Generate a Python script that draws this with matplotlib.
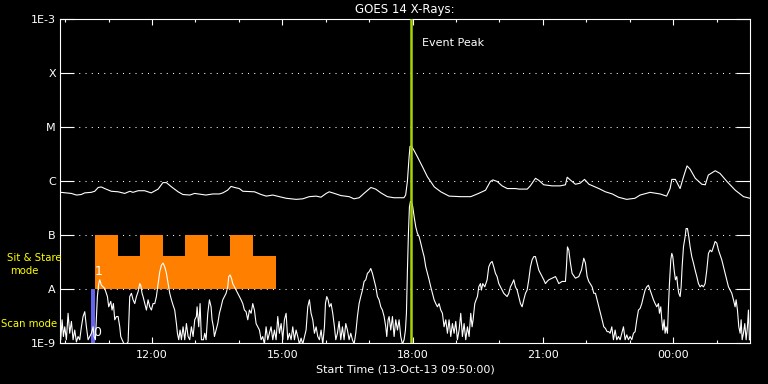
import matplotlib
matplotlib.use('Agg')
import matplotlib.pyplot as plt
import numpy as np

# GOES 14 long channel (1-8 A), time in hours of 13-Oct-13, flux as log10(W/m^2)
long_t = [9.90, 10.14, 10.26, 10.37, 10.45, 10.60, 10.68, 10.76, 10.83, 10.91, 11.06, 11.22, 11.37,
          11.49, 11.56, 11.68, 11.83, 11.98, 12.14, 12.25, 12.33, 12.45, 12.60, 12.71, 12.87, 12.98,
          13.24, 13.40, 13.55, 13.63, 13.74, 13.82, 13.90, 14.01, 14.09, 14.36, 14.51, 14.63, 14.78,
          14.93, 15.09, 15.32, 15.47, 15.62, 15.78, 15.89, 16.01, 16.08, 16.16, 16.35, 16.54, 16.65,
          16.77, 16.88, 17.04, 17.15, 17.27, 17.42, 17.57, 17.80, 17.84, 17.88, 17.92, 17.94, 17.97,
          18.03, 18.11, 18.23, 18.34, 18.50, 18.65, 18.84, 19.11, 19.34, 19.52, 19.68, 19.79, 19.85,
          19.95, 20.06, 20.18, 20.37, 20.45, 20.64, 20.71, 20.83, 20.91, 21.02, 21.21, 21.40, 21.52,
          21.56, 21.63, 21.75, 21.86, 21.96, 22.06, 22.29, 22.44, 22.60, 22.74, 22.93, 23.12, 23.24,
          23.47, 23.70, 23.85, 23.93, 23.97, 24.05, 24.16, 24.24, 24.32, 24.39, 24.51, 24.66, 24.74,
          24.81, 24.97, 25.08, 25.24, 25.43, 25.62, 25.77]
long_log = [-6.21, -6.23, -6.26, -6.25, -6.22, -6.21, -6.19, -6.12, -6.11, -6.14, -6.19, -6.20, -6.23,
            -6.19, -6.21, -6.18, -6.18, -6.22, -6.15, -6.03, -6.03, -6.11, -6.20, -6.25, -6.26, -6.23,
            -6.26, -6.24, -6.24, -6.22, -6.17, -6.10, -6.12, -6.14, -6.19, -6.20, -6.25, -6.28, -6.26,
            -6.29, -6.32, -6.34, -6.33, -6.29, -6.28, -6.30, -6.23, -6.20, -6.22, -6.27, -6.29, -6.33,
            -6.31, -6.23, -6.12, -6.15, -6.22, -6.29, -6.31, -6.31, -6.26, -6.01, -5.55, -5.36, -5.35,
            -5.43, -5.55, -5.74, -5.92, -6.11, -6.20, -6.28, -6.29, -6.29, -6.23, -6.17, -6.01, -5.98,
            -6.01, -6.09, -6.14, -6.14, -6.15, -6.15, -6.09, -5.95, -5.99, -6.07, -6.09, -6.09, -6.07,
            -5.93, -5.98, -6.06, -6.04, -5.97, -6.06, -6.14, -6.20, -6.24, -6.30, -6.34, -6.32, -6.26,
            -6.21, -6.24, -6.28, -6.14, -5.97, -5.97, -6.14, -5.92, -5.72, -5.78, -5.95, -6.06, -6.07,
            -5.89, -5.81, -5.86, -6.01, -6.17, -6.29, -6.32]

# GOES 14 short channel (0.5-4 A)
short_t = [9.897, 9.928, 9.958, 9.989, 10.027, 10.066, 10.104, 10.143, 10.181, 10.219, 10.258, 10.296,
           10.334, 10.373, 10.411, 10.450, 10.488, 10.527, 10.603, 10.642, 10.665, 10.695, 10.741, 10.772,
           10.795, 10.834, 10.872, 10.910, 10.972, 11.002, 11.049, 11.079, 11.110, 11.141, 11.179, 11.218,
           11.256, 11.279, 11.310, 11.356, 11.409, 11.448, 11.486, 11.525, 11.563, 11.601, 11.640, 11.678,
           11.716, 11.739, 11.770, 11.793, 11.832, 11.870, 11.908, 11.947, 11.985, 12.023, 12.062, 12.100,
           12.139, 12.177, 12.215, 12.254, 12.292, 12.331, 12.369, 12.407, 12.446, 12.484, 12.522, 12.561,
           12.584, 12.614, 12.645, 12.676, 12.714, 12.753, 12.791, 12.830, 12.868, 12.906, 12.945, 12.983,
           13.021, 13.037, 13.075, 13.106, 13.137, 13.183, 13.213, 13.244, 13.283, 13.321, 13.359, 13.382,
           13.413, 13.436, 13.475, 13.513, 13.551, 13.590, 13.628, 13.666, 13.705, 13.743, 13.766, 13.797,
           13.828, 13.858, 13.897, 13.935, 13.974, 14.012, 14.050, 14.089, 14.127, 14.165, 14.204, 14.242,
           14.281, 14.319, 14.357, 14.396, 14.434, 14.473, 14.511, 14.549, 14.588, 14.626, 14.664, 14.703,
           14.741, 14.780, 14.818, 14.856, 14.895, 14.933, 14.972, 15.010, 15.048, 15.087, 15.125, 15.163,
           15.202, 15.240, 15.279, 15.317, 15.355, 15.394, 15.432, 15.470, 15.547, 15.586, 15.624, 15.662,
           15.701, 15.739, 15.778, 15.816, 15.854, 15.893, 15.931, 15.970, 15.993, 16.023, 16.054, 16.085,
           16.123, 16.161, 16.200, 16.231, 16.269, 16.307, 16.346, 16.384, 16.422, 16.461, 16.499, 16.538,
           16.576, 16.614, 16.653, 16.691, 16.729, 16.768, 16.806, 16.845, 16.883, 16.921, 16.960, 16.998,
           17.037, 17.075, 17.113, 17.152, 17.190, 17.228, 17.267, 17.305, 17.344, 17.382, 17.405, 17.436,
           17.459, 17.497, 17.536, 17.574, 17.612, 17.651, 17.689, 17.727, 17.766, 17.804, 17.835, 17.858,
           17.881, 17.904, 17.927, 17.950, 17.973, 18.004, 18.035, 18.073, 18.111, 18.150, 18.188, 18.226,
           18.265, 18.303, 18.342, 18.380, 18.418, 18.457, 18.495, 18.533, 18.572, 18.610, 18.649, 18.687,
           18.725, 18.764, 18.802, 18.840, 18.879, 18.917, 18.956, 18.994, 19.032, 19.071, 19.109, 19.147,
           19.186, 19.224, 19.263, 19.301, 19.339, 19.370, 19.393, 19.432, 19.463, 19.493, 19.524, 19.562,
           19.585, 19.616, 19.662, 19.716, 19.754, 19.793, 19.831, 19.869, 19.908, 19.946, 19.985, 20.023,
           20.061, 20.100, 20.138, 20.176, 20.215, 20.253, 20.292, 20.330, 20.368, 20.407, 20.445, 20.484,
           20.522, 20.560, 20.599, 20.637, 20.675, 20.714, 20.752, 20.791, 20.829, 20.867, 20.906, 20.944,
           20.982, 21.021, 21.059, 21.098, 21.136, 21.213, 21.290, 21.328, 21.366, 21.443, 21.520, 21.543,
           21.566, 21.597, 21.635, 21.673, 21.750, 21.827, 21.888, 21.942, 21.981, 22.019, 22.057, 22.134,
           22.173, 22.211, 22.249, 22.288, 22.326, 22.364, 22.403, 22.441, 22.479, 22.518, 22.549, 22.587,
           22.625, 22.664, 22.702, 22.741, 22.779, 22.856, 22.894, 22.932, 22.971, 23.009, 23.048, 23.086,
           23.124, 23.163, 23.201, 23.240, 23.278, 23.316, 23.355, 23.393, 23.431, 23.470, 23.508, 23.547,
           23.585, 23.623, 23.662, 23.685, 23.715, 23.739, 23.762, 23.792, 23.815, 23.838, 23.869, 23.892,
           23.915, 23.946, 23.969, 23.992, 24.023, 24.053, 24.084, 24.107, 24.130, 24.161, 24.184, 24.207,
           24.238, 24.276, 24.299, 24.330, 24.360, 24.391, 24.429, 24.468, 24.506, 24.545, 24.583, 24.621,
           24.660, 24.698, 24.736, 24.775, 24.813, 24.852, 24.890, 24.928, 24.967, 25.005, 25.044, 25.082,
           25.120, 25.159, 25.197, 25.235, 25.274, 25.312, 25.351, 25.389, 25.427, 25.450, 25.481, 25.512,
           25.543, 25.566, 25.589, 25.619, 25.650, 25.681, 25.711, 25.734, 25.757]
short_log = [-8.94, -8.57, -8.88, -8.70, -8.94, -8.45, -8.82, -8.60, -8.94, -8.76, -8.98, -8.88,
             -8.94, -8.70, -8.51, -8.42, -8.70, -8.94, -8.82, -8.70, -8.88, -8.94, -8.14, -7.90,
             -7.83, -7.93, -7.96, -7.99, -8.14, -8.33, -8.23, -8.39, -8.27, -8.57, -8.51, -8.51,
             -8.70, -8.88, -8.94, -9.02, -9.02, -8.98, -8.14, -8.08, -8.20, -8.27, -8.14, -8.05,
             -7.90, -7.93, -8.08, -8.14, -8.27, -8.39, -8.20, -8.33, -8.39, -8.27, -8.27, -8.14,
             -7.90, -7.68, -7.56, -7.52, -7.59, -7.71, -7.90, -8.08, -8.20, -8.30, -8.39, -8.64,
             -8.82, -8.94, -8.76, -8.94, -8.70, -8.94, -8.64, -8.88, -8.94, -8.70, -8.88, -8.57,
             -8.51, -8.33, -8.70, -8.27, -8.94, -8.94, -8.82, -8.94, -8.45, -8.20, -8.33, -8.57,
             -8.70, -8.88, -8.76, -8.64, -8.45, -8.33, -8.20, -8.14, -8.08, -7.96, -7.77, -7.74,
             -7.80, -7.90, -7.96, -8.02, -8.08, -8.14, -8.20, -8.27, -8.39, -8.42, -8.57, -8.39,
             -8.45, -8.27, -8.39, -8.64, -8.70, -8.76, -8.94, -8.88, -9.02, -8.70, -8.94, -8.82,
             -8.70, -8.94, -8.76, -8.94, -8.51, -8.82, -8.64, -8.94, -8.57, -8.45, -8.94, -8.82,
             -8.94, -8.70, -8.94, -8.76, -8.88, -9.02, -8.91, -9.02, -8.76, -8.33, -8.20, -8.45,
             -8.57, -8.82, -8.70, -8.88, -8.94, -8.76, -9.02, -8.70, -8.27, -8.14, -8.20, -8.33,
             -8.27, -8.45, -8.70, -8.94, -8.82, -8.60, -8.94, -8.70, -8.94, -8.64, -8.76, -8.94,
             -8.82, -8.94, -9.02, -8.82, -8.51, -8.27, -8.14, -8.02, -7.86, -7.83, -7.71, -7.68,
             -7.62, -7.71, -7.83, -7.96, -8.14, -8.20, -8.33, -8.39, -8.51, -8.70, -8.88, -8.57,
             -8.51, -8.76, -8.51, -8.88, -8.57, -8.76, -8.57, -8.88, -9.02, -8.94, -8.76, -8.45,
             -7.65, -6.97, -6.48, -6.38, -6.38, -6.48, -6.66, -6.85, -6.97, -7.03, -7.15, -7.28,
             -7.40, -7.59, -7.71, -7.83, -7.96, -8.08, -8.20, -8.27, -8.33, -8.27, -8.39, -8.45,
             -8.70, -8.57, -8.82, -8.57, -8.88, -8.64, -8.82, -8.60, -8.94, -8.76, -8.45, -8.88,
             -8.64, -8.94, -8.70, -8.88, -8.45, -8.70, -8.57, -8.27, -8.20, -8.14, -7.96, -7.90,
             -8.02, -7.90, -7.96, -7.83, -7.59, -7.52, -7.49, -7.59, -7.71, -7.77, -7.90, -7.96,
             -8.02, -8.08, -8.11, -8.14, -8.08, -7.96, -7.90, -7.83, -7.96, -8.02, -8.14, -8.27,
             -8.33, -8.20, -8.08, -8.02, -7.83, -7.59, -7.46, -7.40, -7.40, -7.52, -7.65, -7.71,
             -7.77, -7.83, -7.90, -7.86, -7.83, -7.80, -7.77, -7.83, -7.90, -7.86, -7.86, -7.59,
             -7.22, -7.28, -7.52, -7.71, -7.80, -7.77, -7.65, -7.43, -7.52, -7.77, -7.86, -7.96,
             -8.08, -8.08, -8.20, -8.33, -8.45, -8.57, -8.70, -8.73, -8.79, -8.79, -8.82, -8.70,
             -8.94, -8.76, -8.94, -8.88, -8.94, -8.70, -8.94, -8.85, -8.94, -8.88, -8.94, -8.82,
             -8.79, -8.57, -8.39, -8.36, -8.27, -8.14, -8.02, -7.96, -7.93, -8.02, -8.11, -8.20,
             -8.27, -8.33, -8.27, -8.45, -8.33, -8.57, -8.76, -8.57, -8.82, -8.70, -8.82, -8.33,
             -7.90, -7.46, -7.34, -7.40, -7.65, -7.83, -7.77, -7.96, -8.08, -8.14, -7.96, -7.59,
             -7.22, -7.03, -6.88, -6.88, -7.03, -7.22, -7.40, -7.52, -7.65, -7.77, -7.90, -7.96,
             -7.93, -7.96, -7.90, -7.65, -7.34, -7.28, -7.31, -7.22, -7.12, -7.15, -7.28, -7.37,
             -7.46, -7.59, -7.71, -7.83, -7.96, -8.02, -8.08, -8.20, -8.33, -8.20, -8.39, -8.70,
             -8.82, -8.57, -8.94, -8.82, -8.64, -8.94, -8.70, -8.39, -8.94]

# IRIS observing modes
scan_start, scan_end = 10.60, 10.69
sit_start, sit_end = 10.69, 14.86
sit_low_top = -7.38
sit_blocks = [(10.69, 11.22), (11.72, 12.25), (12.76, 13.29), (13.80, 14.33)]

peak_time = 17.966
goes_levels = [1e-9, 1e-8, 1e-7, 1e-6, 1e-5, 1e-4, 1e-3]
goes_labels = ['1E-9', 'A', 'B', 'C', 'M', 'X', '1E-3']
hour_ticks = [12, 15, 18, 21, 24]
hour_labels = ['12:00', '15:00', '18:00', '21:00', '00:00']

fig = plt.figure(figsize=(7.68, 3.84), dpi=100, facecolor='black')
ax = fig.add_axes([60/768, 1-343/384, 690/768, 324/384], facecolor='black')

# orange sit & stare blocks and blue scan bar
ax.bar(sit_start, 10**sit_low_top - 1e-8, width=sit_end-sit_start, bottom=1e-8,
       align='edge', color='#ff8000', linewidth=0, zorder=1)
for b0, b1 in sit_blocks:
    ax.bar(b0, 1e-7 - 10**sit_low_top, width=b1-b0, bottom=10**sit_low_top,
           align='edge', color='#ff8000', linewidth=0, zorder=1)
ax.bar(scan_start, 1e-8 - 1e-9, width=scan_end-scan_start, bottom=1e-9,
       align='edge', color='#6464f0', linewidth=0, zorder=1)

for lv in goes_levels[1:-1]:
    ax.axhline(lv, color='white', lw=0.75, ls=(0, (1, 5)), zorder=0)

ax.plot(long_t, 10**np.array(long_log), color='white', lw=0.8, zorder=3)
ax.plot(short_t, 10**np.array(short_log), color='white', lw=0.8, zorder=3)

ax.axvline(peak_time, color='#a8d400', lw=1.8, zorder=4)
ax.text(18.21, 10**-3.44, 'Event Peak', color='white', fontsize=8, va='center', ha='left')
ax.text(10.78, 10**-7.67, '1', color='white', fontsize=9, va='center', ha='center', zorder=5)
ax.text(10.73, 10**-8.81, '0', color='white', fontsize=9, va='center', ha='center', zorder=5)

ax.set_yscale('log')
ax.set_ylim(1e-9, 1e-3)
ax.set_xlim(9.88, 25.77)
ax.set_yticks(goes_levels)
ax.set_yticklabels(goes_labels)
ax.yaxis.set_minor_locator(matplotlib.ticker.NullLocator())
ax.set_xticks(hour_ticks)
ax.set_xticklabels(hour_labels)
ax.set_xticks(np.arange(10, 26), minor=True)

ax.tick_params(axis='y', which='major', direction='in', length=10, width=0.8, colors='white',
               labelcolor='white', labelsize=8, left=True, right=True, pad=3)
ax.tick_params(axis='x', which='major', direction='in', length=4.3, width=0.8, colors='white',
               labelcolor='white', labelsize=8, top=True, bottom=True, pad=5)
ax.tick_params(axis='x', which='minor', direction='in', length=2.2, width=0.8, colors='white',
               top=True, bottom=True)
for s in ax.spines.values():
    s.set_color('white')
    s.set_linewidth(0.8)

ax.set_xlabel('Start Time (13-Oct-13 09:50:00)', color='white', fontsize=8, labelpad=3)
ax.set_title('GOES 14 X-Rays:', color='white', fontsize=8.5, pad=4)

fig.text(34/768, 1-258/384, 'Sit & Stare', color='#ffff00', fontsize=7.3, ha='center', va='center')
fig.text(24/768, 1-271/384, 'mode', color='#ffff00', fontsize=7.3, ha='center', va='center')
fig.text(29/768, 1-324/384, 'Scan mode', color='#ffff00', fontsize=7.3, ha='center', va='center')

fig.savefig('out.png', dpi=100, facecolor='black')
